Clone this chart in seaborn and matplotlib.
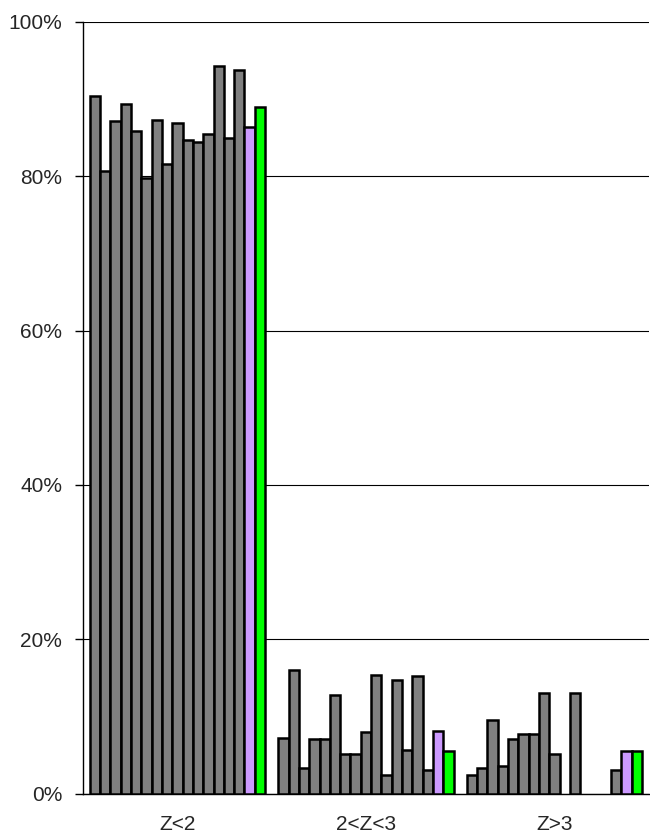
import pandas as pd
import matplotlib.pyplot as plt
import seaborn as sns
from matplotlib.ticker import FuncFormatter

categories = ["Z<2", "2<Z<3", "Z>3"]
series = ["s%d" % i for i in range(1, 18)]

# share of values in each band, one list per band (17 series each)
z_lt2 = [90.4, 80.7, 87.1, 89.3, 85.8, 79.7, 87.3, 81.6, 86.9, 84.7, 84.4, 85.4, 94.3, 84.9, 93.8, 86.3, 89.0]
z_2to3 = [7.2, 16.1, 3.3, 7.1, 7.1, 12.8, 5.1, 5.1, 8.0, 15.4, 2.5, 14.7, 5.7, 15.2, 3.1, 8.2, 5.5]
z_gt3 = [2.4, 3.3, 9.6, 3.6, 7.1, 7.7, 7.7, 13.1, 5.1, 0.0, 13.1, 0.0, 0.0, 0.0, 3.1, 5.5, 5.5]

colors = ["#808080"] * 15 + ["#CC99FF", "#00FF00"]

rows = []
for cat, vals in zip(categories, [z_lt2, z_2to3, z_gt3]):
    for s, v in zip(series, vals):
        rows.append({"band": cat, "series": s, "value": v / 100})
df = pd.DataFrame(rows)
df = df[df["value"] > 0]  # empty bars are not drawn at all

sns.set_style("white")
plt.rcParams["font.family"] = ["Liberation Sans", "DejaVu Sans"]

fig = plt.figure(figsize=(6.5, 8.33), dpi=100)
ax = fig.add_axes([0.128, 0.047, 0.870, 0.927])

sns.barplot(data=df, x="band", y="value", hue="series", order=categories,
            hue_order=series, palette=dict(zip(series, colors)),
            width=0.93, gap=0, saturation=1, edgecolor="black", linewidth=1.8,
            legend=False, ax=ax, zorder=3)

ax.set_ylim(0, 1)
ax.set_xlim(-0.5, 2.5)
ax.set_yticks([0, 0.2, 0.4, 0.6, 0.8, 1.0])
ax.yaxis.set_major_formatter(FuncFormatter(lambda v, p: "%d%%" % round(v * 100)))
ax.yaxis.grid(True, color="black", linewidth=0.8)
ax.set_axisbelow(True)

ax.set_xticks([0, 1, 2])
ax.set_xticklabels(categories)
ax.set_xticks([-0.5, 0.5, 1.5, 2.5], minor=True)
ax.tick_params(axis="x", which="major", length=0, pad=15, labelsize=15)
ax.tick_params(axis="x", which="minor", length=5, width=1, direction="out", color="black")
ax.tick_params(axis="y", length=6, width=1, direction="out", color="black", labelsize=15, pad=9, left=True)

for side in ["top", "right"]:
    ax.spines[side].set_visible(False)
for side in ["left", "bottom"]:
    ax.spines[side].set_color("black")
    ax.spines[side].set_linewidth(1)

ax.set_xlabel("")
ax.set_ylabel("")

plt.savefig("out.png", dpi=100)
